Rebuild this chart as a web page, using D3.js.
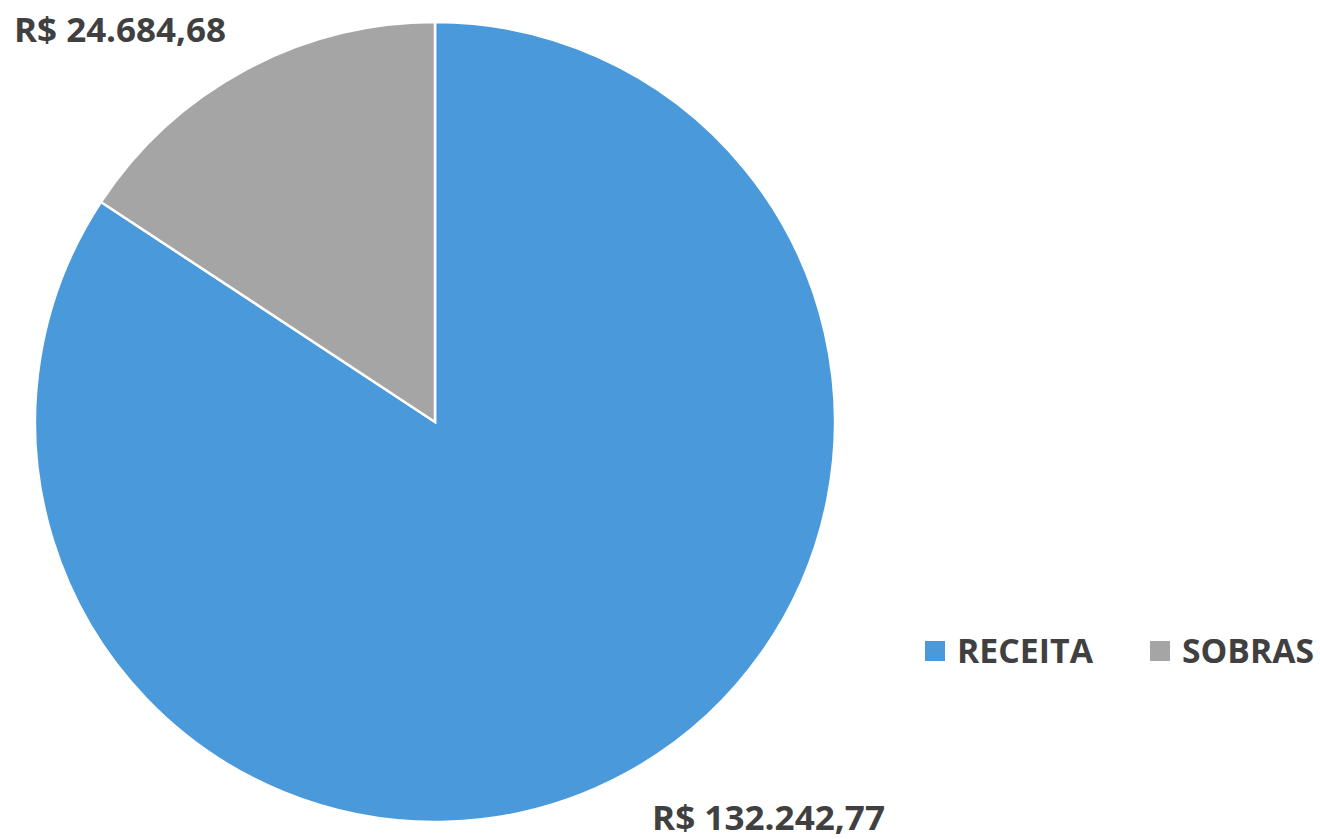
<!DOCTYPE html>
<html><head><meta charset="utf-8">
<script src="https://cdn.jsdelivr.net/npm/d3@7"></script>
<style>body{margin:0;background:#fff}</style>
</head><body>
<svg id="c" width="1320" height="839"></svg>
<script>
const categories = ["RECEITA", "SOBRAS"];
const values = [132242.77, 24684.68];
const labels = ["R$ 132.242,77", "R$ 24.684,68"];
const colors = ["#4A9ADB", "#A5A5A5"];

const svg = d3.select("#c");
const cx = 435, cy = 422, r = 400;
const pie = d3.pie().sort(null).value(d => d)(values);
const arc = d3.arc().innerRadius(0).outerRadius(r);
const g = svg.append("g").attr("transform", `translate(${cx},${cy})`);
g.selectAll("path").data(pie).join("path")
  .attr("d", arc).attr("fill", (d,i) => colors[i])
  .attr("stroke", "#fff").attr("stroke-width", 2.5);

const font = "'Open Sans', sans-serif";
svg.append("text").attr("x", 14).attr("y", 42).text(labels[1])
  .attr("font-family", font).attr("font-weight", 700).attr("font-size", 34)
  .attr("fill", "#404040").attr("textLength", 212).attr("lengthAdjust","spacingAndGlyphs");
svg.append("text").attr("x", 652).attr("y", 830).text(labels[0])
  .attr("font-family", font).attr("font-weight", 700).attr("font-size", 34)
  .attr("fill", "#404040").attr("textLength", 233).attr("lengthAdjust","spacingAndGlyphs");

const legX = [925, 1150], legW = [136, 132];
categories.forEach((c, i) => {
  svg.append("rect").attr("x", legX[i]).attr("y", 641).attr("width", 20).attr("height", 20).attr("fill", colors[i]);
  svg.append("text").attr("x", legX[i] + 32).attr("y", 663).text(c)
    .attr("font-family", font).attr("font-weight", 700).attr("font-size", 34)
    .attr("fill", "#404040").attr("textLength", legW[i]).attr("lengthAdjust","spacingAndGlyphs");
});
</script>
</body></html>
